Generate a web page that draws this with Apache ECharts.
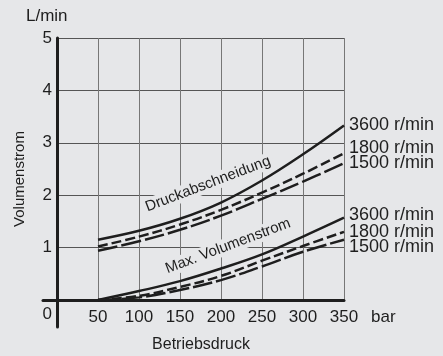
<!DOCTYPE html>
<html>
<head>
<meta charset="utf-8">
<script src="https://cdn.jsdelivr.net/npm/echarts@6/dist/echarts.min.js"></script>
<style>
  html, body { margin: 0; padding: 0; background: #e6e7e9; }
  #chart { width: 443px; height: 356px; }
</style>
</head>
<body>
<div id="chart"></div>
<script>
// Operating pressure in bar
const pressure = [50, 100, 150, 200, 250, 300, 350];

// Pressure cut-off curves (L/min)
const druck3600 = [1.15, 1.32, 1.55, 1.86, 2.28, 2.78, 3.33];
const druck1800 = [1.02, 1.21, 1.44, 1.72, 2.05, 2.41, 2.80];
const druck1500 = [0.94, 1.12, 1.34, 1.61, 1.93, 2.26, 2.61];

// Maximum flow curves (L/min)
const max3600 = [0, 0.17, 0.36, 0.60, 0.87, 1.21, 1.57];
const max1800 = [0, 0.08, 0.25, 0.46, 0.75, 1.03, 1.30];
const max1500 = [0, 0.05, 0.19, 0.38, 0.64, 0.92, 1.15];

const speedLabels = ['3600 r/min', '1800 r/min', '1500 r/min'];

const FONT = '"Liberation Sans", Arial, sans-serif';
const INK = '#1e1e1e';
const BG = '#e6e7e9';

const DASH_1800 = [10, 4];
const DASH_1500 = [20, 4];

function pairs(ys) {
  return pressure.map((p, i) => [p, ys[i]]);
}

function curve(ys, label, dash, dy) {
  return {
    type: 'line',
    xAxisIndex: 0,
    yAxisIndex: 0,
    data: pairs(ys),
    smooth: 0.4,
    showSymbol: false,
    silent: true,
    z: 3,
    lineStyle: { color: INK, width: 2.5, type: dash || 'solid' },
    endLabel: {
      show: true,
      formatter: label,
      distance: 5,
      offset: [0, dy],
      color: INK,
      fontFamily: FONT,
      fontSize: 18
    }
  };
}

const chart = echarts.init(document.getElementById('chart'), null, { renderer: 'canvas' });

chart.setOption({
  backgroundColor: BG,
  animation: false,
  grid: [
    // plotting area with the grid lines and tick labels
    { left: 57, right: 99, top: 38, bottom: 56 },
    // slightly larger frame whose zero lines overshoot the plot as crossing axes
    { left: 43, right: 99, top: 38, bottom: 29 }
  ],
  xAxis: [
    {
      gridIndex: 0,
      type: 'value',
      min: 0,
      max: 350,
      interval: 50,
      axisLine: { show: false },
      axisTick: { show: false },
      axisLabel: {
        margin: 9,
        color: INK,
        fontFamily: FONT,
        fontSize: 17,
        formatter: v => (v > 0 ? String(v) : '')
      },
      splitLine: { show: true, lineStyle: { color: '#777', width: 1 } }
    },
    {
      gridIndex: 1,
      type: 'value',
      min: -17,
      max: 350,
      axisLine: { onZero: true, lineStyle: { color: INK, width: 3 } },
      axisTick: { show: false },
      axisLabel: { show: false },
      splitLine: { show: false }
    }
  ],
  yAxis: [
    {
      gridIndex: 0,
      type: 'value',
      min: 0,
      max: 5,
      interval: 1,
      axisLine: { show: false },
      axisTick: { show: false },
      axisLabel: {
        margin: 5,
        color: INK,
        fontFamily: FONT,
        fontSize: 17,
        formatter: v => (v === 0 ? '{z|0}' : String(v)),
        rich: { z: { padding: [28, 0, 0, 0], fontSize: 17, fontFamily: FONT, color: INK } }
      },
      splitLine: { show: true, lineStyle: { color: '#555', width: 1 } }
    },
    {
      gridIndex: 1,
      type: 'value',
      min: -0.52,
      max: 5,
      axisLine: { onZero: true, lineStyle: { color: INK, width: 3 } },
      axisTick: { show: false },
      axisLabel: { show: false },
      splitLine: { show: false }
    }
  ],
  graphic: [
    {
      type: 'text', left: 26, top: 8, z: 10,
      style: { text: 'L/min', fill: INK, font: '17px ' + FONT }
    },
    {
      type: 'text', x: 20, y: 179, rotation: Math.PI / 2, z: 10,
      style: { text: 'Volumenstrom', fill: INK, font: '15px ' + FONT, align: 'center', verticalAlign: 'middle' }
    },
    {
      type: 'text', x: 371, y: 317, z: 10,
      style: { text: 'bar', fill: INK, font: '17px ' + FONT, align: 'left', verticalAlign: 'middle' }
    },
    {
      type: 'text', x: 201, y: 345, z: 10,
      style: { text: 'Betriebsdruck', fill: INK, font: '16px ' + FONT, align: 'center', verticalAlign: 'middle' }
    },
    {
      type: 'text', x: 208, y: 184, rotation: 0.363, z: 1,
      style: {
        text: 'Druckabschneidung', fill: INK, font: '15px ' + FONT,
        align: 'center', verticalAlign: 'middle',
        backgroundColor: BG, padding: [1, 3]
      }
    },
    {
      type: 'text', x: 228, y: 246, rotation: 0.36, z: 1,
      style: {
        text: 'Max. Volumenstrom', fill: INK, font: '15px ' + FONT,
        align: 'center', verticalAlign: 'middle',
        backgroundColor: BG, padding: [1, 3]
      }
    }
  ],
  series: [
    curve(druck3600, speedLabels[0], null, 0),
    curve(druck1800, speedLabels[1], DASH_1800, -5),
    curve(druck1500, speedLabels[2], DASH_1500, 0),
    curve(max3600, speedLabels[0], null, -3),
    curve(max1800, speedLabels[1], DASH_1800, 0),
    curve(max1500, speedLabels[2], DASH_1500, 7)
  ]
});
</script>
</body>
</html>
